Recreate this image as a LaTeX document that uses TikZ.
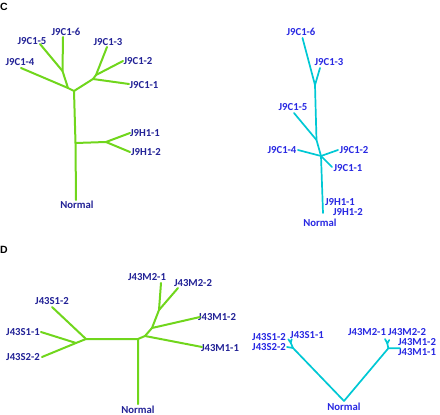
\documentclass[tikz,border=0pt]{standalone}
\usepackage{fontspec}
\setmainfont{Carlito}
\newfontfamily\panelfont{Liberation Sans}
\usetikzlibrary{positioning}
\definecolor{treegreen}{RGB}{112,214,28}
\definecolor{treecyan}{RGB}{0,200,212}
\definecolor{labnavy}{RGB}{34,34,150}
\definecolor{labblue}{RGB}{40,40,226}

\begin{document}
\begin{tikzpicture}[x=1pt,y=-1pt,
  gbr/.style={draw=treegreen,line width=2pt,line cap=round,line join=round},
  cbr/.style={draw=treecyan,line width=1.7pt,line cap=round,line join=round},
  lab/.style={font=\fontsize{10.7}{12}\selectfont\bfseries,text=labnavy,inner sep=0pt},
  labr/.style={lab,text=labblue},
  panel/.style={font=\panelfont\fontsize{10.5}{12}\selectfont\bfseries,inner sep=0pt}]
\useasboundingbox (0,0) rectangle (440,415);
\node[panel] (pC) at (4,6.5) {C};
\node[panel] (pD) at (4,250) {D};
% C, left tree
\coordinate (cA) at (74,91);
\coordinate (cB) at (68,88);
\coordinate (cB2) at (62.5,71);
\coordinate (cD) at (93,79);
\coordinate (cE) at (96,75);
\coordinate (cH) at (75.5,143);
\coordinate (cH2) at (106,142);
\coordinate (cN) at (76,200);
\coordinate (c6) at (63,37);
\coordinate (c5) at (40,44);
\coordinate (c4) at (21,68);
\coordinate (c3) at (107,47);
\coordinate (c2) at (123,61);
\coordinate (c1) at (129,84);
\coordinate (h1) at (130,133);
\coordinate (h2) at (130,152);
\node[lab] (lc6) at (66,32) {J9C1-6};
\node[lab] (lc5) at (32,41) {J9C1-5};
\node[lab] (lc4) at (20,62) {J9C1-4};
\node[lab] (lc3) at (108,42) {J9C1-3};
\node[lab] (lc2) at (138,61) {J9C1-2};
\node[lab] (lc1) at (144,85) {J9C1-1};
\node[lab] (lh1) at (145,133) {J9H1-1};
\node[lab] (lh2) at (146,152) {J9H1-2};
\node[lab] (lcn) at (77,205) {Normal};
\draw[gbr] (cN) -- (cH) -- (cA);
\draw[gbr] (cH) -- (cH2);
\draw[gbr] (h1) -- (cH2) -- (h2);
\draw[gbr] (cA) -- (cB) -- (cB2) -- (c6);
\draw[gbr] (cB2) -- (c5);
\draw[gbr] (cB) -- (c4);
\draw[gbr] (cA) -- (cD) -- (c1);
\draw[gbr] (cD) -- (cE) -- (c3);
\draw[gbr] (cE) -- (c2);
% C, right tree
\coordinate (rF) at (315,85);
\coordinate (rG) at (316.5,140);
\coordinate (rH) at (321,156);
\coordinate (rN) at (323,213);
\coordinate (r6) at (302.5,38);
\coordinate (r3) at (320,68);
\coordinate (r5) at (294,113);
\coordinate (r4) at (298,150);
\coordinate (r2) at (338,150);
\coordinate (r1) at (332,167);
\node[labr] (lr6) at (301,32) {J9C1-6};
\node[labr] (lr3) at (329,62) {J9C1-3};
\node[labr] (lr5) at (293,107) {J9C1-5};
\node[labr] (lr4) at (282,150) {J9C1-4};
\node[labr] (lr2) at (354,150) {J9C1-2};
\node[labr] (lr1) at (348,168) {J9C1-1};
\node[labr] (lrh1) at (340,202.5) {J9H1-1};
\node[labr] (lrh2) at (348,212.5) {J9H1-2};
\node[labr] (lrn) at (320,222.5) {Normal};
\draw[cbr] (r6) -- (rF) -- (r3);
\draw[cbr] (rF) -- (rG) -- (rH) -- (rN);
\draw[cbr] (r5) -- (rG);
\draw[cbr] (r4) -- (rH) -- (r2);
\draw[cbr] (rH) -- (r1);
% D, left tree
\coordinate (dN) at (138,404);
\coordinate (dM) at (138,339);
\coordinate (dL) at (86,339);
\coordinate (dL2) at (76,343);
\coordinate (dR) at (145,336);
\coordinate (dR2) at (152,328);
\coordinate (dR3) at (159,310);
\coordinate (s12) at (52,307);
\coordinate (s11) at (41,332);
\coordinate (s22) at (42,357);
\coordinate (m11) at (202,347);
\coordinate (m12) at (200,317);
\coordinate (m21) at (161,283);
\coordinate (m22) at (178,288);
\node[lab] (ls12) at (52,301) {J43S1-2};
\node[lab] (ls11) at (23,332) {J43S1-1};
\node[lab] (ls22) at (23,357) {J43S2-2};
\node[lab] (lm21) at (147,277) {J43M2-1};
\node[lab] (lm22) at (193,283) {J43M2-2};
\node[lab] (lm12) at (217,317) {J43M1-2};
\node[lab] (lm11) at (220,348) {J43M1-1};
\node[lab] (ldn) at (138,410) {Normal};
\draw[gbr] (dN) -- (dM) -- (dL) -- (s12);
\draw[gbr] (dL) -- (dL2) -- (s11);
\draw[gbr] (dL2) -- (s22);
\draw[gbr] (dM) -- (dR) -- (m11);
\draw[gbr] (dR) -- (dR2) -- (m12);
\draw[gbr] (dR2) -- (dR3) -- (m21);
\draw[gbr] (dR3) -- (m22);
% D, right tree
\coordinate (vN) at (344,401);
\coordinate (vL) at (293,348);
\coordinate (vL2) at (290.7,342.7);
\coordinate (vR) at (388.3,348.3);
\coordinate (vR2) at (387.3,343.3);
\coordinate (t12) at (288.3,339.3);
\coordinate (t11) at (291.7,339.3);
\coordinate (t22) at (287,347);
\coordinate (u21) at (385,339);
\coordinate (u22) at (389.3,340);
\coordinate (u1) at (400,348.3);
\node[labr] (lt12) at (269,337) {J43S1-2};
\node[labr] (lt11) at (307,335) {J43S1-1};
\node[labr] (lt22) at (269,347.5) {J43S2-2};
\node[labr] (lu21) at (367,332.5) {J43M2-1};
\node[labr] (lu22) at (407,332.5) {J43M2-2};
\node[labr] (lu12) at (417,342.5) {J43M1-2};
\node[labr] (lu11) at (417,352.5) {J43M1-1};
\node[labr] (lvn) at (344,407) {Normal};
\draw[cbr] (vL) -- (vN) -- (vR);
\draw[cbr] (t12) -- (vL2) -- (t11);
\draw[cbr] (vL2) -- (vL) -- (t22);
\draw[cbr] (u21) -- (vR2) -- (u22);
\draw[cbr] (vR2) -- (vR) -- (u1);
\end{tikzpicture}
\end{document}
